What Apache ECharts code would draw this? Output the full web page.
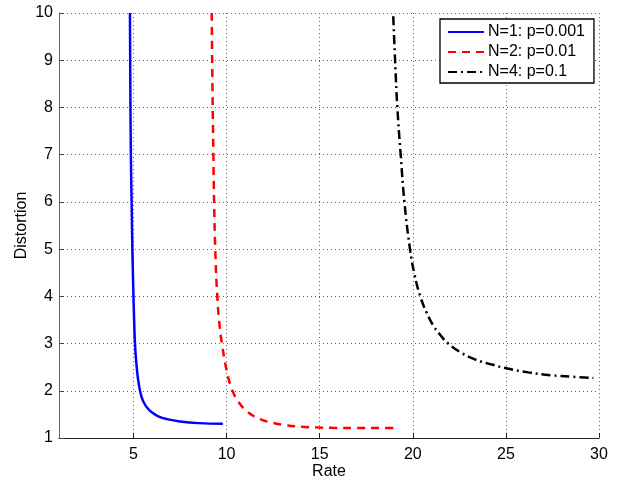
<!DOCTYPE html>
<html>
<head>
<meta charset="utf-8">
<script src="https://cdn.jsdelivr.net/npm/echarts@6/dist/echarts.min.js"></script>
<style>html,body{margin:0;padding:0;background:#fff}#c{width:624px;height:481px}</style>
</head>
<body>
<div id="c"></div>
<script>
const xTicks = [5, 10, 15, 20, 25, 30];
const yTicks = [1, 2, 3, 4, 5, 6, 7, 8, 9, 10];
const seriesNames = ['N=1: p=0.001', 'N=2: p=0.01', 'N=4: p=0.1'];

const blueRate = [4.81, 4.83, 4.86, 4.90, 4.94, 5.00, 5.035, 5.08, 5.15, 5.24, 5.35, 5.46, 5.60, 5.78, 6.00, 6.33, 6.80, 7.50, 8.50, 9.80];
const blueDist = [10, 8.5, 7, 6, 5, 4, 3.5, 3, 2.6, 2.26, 2.0, 1.84, 1.72, 1.62, 1.54, 1.46, 1.40, 1.35, 1.315, 1.30];

const redRate = [9.20, 9.24, 9.29, 9.33, 9.39, 9.50, 9.62, 9.75, 10.00, 10.27, 10.58, 11.08, 11.80, 12.50, 13.20, 14.00, 14.80, 15.70, 17.00, 18.20, 19.20];
const redDist = [10, 8.5, 7, 6, 5, 4, 3.4, 3.0, 2.44, 2.05, 1.80, 1.57, 1.40, 1.32, 1.27, 1.24, 1.225, 1.215, 1.21, 1.21, 1.21];

const blackRate = [18.95, 19.05, 19.17, 19.35, 19.55, 19.85, 20.10, 20.40, 20.75, 21.10, 21.50, 21.90, 22.50, 23.30, 24.30, 25.10, 26.20, 27.40, 28.50, 29.70];
const blackDist = [9.93, 9.0, 8.0, 7.0, 6.0, 5.0, 4.45, 4.0, 3.65, 3.38, 3.17, 3.0, 2.83, 2.67, 2.55, 2.47, 2.39, 2.33, 2.30, 2.27];

function pairs(xs, ys) { return xs.map((x, i) => [x, ys[i]]); }

const font = 'Liberation Sans, Arial, Helvetica, sans-serif';
const chart = echarts.init(document.getElementById('c'), null, {renderer: 'canvas'});
const lineBase = {type: 'line', showSymbol: false, symbol: 'none', smooth: 0.45, z: 3};
chart.setOption({
  animation: false,
  backgroundColor: '#fff',
  grid: {left: 59, right: 25, top: 13, bottom: 43, containLabel: false, outerBoundsMode: 'none'},
  legend: {
    orient: 'vertical',
    left: 440, top: 19,
    backgroundColor: '#fff',
    borderColor: '#000', borderWidth: 1.3,
    padding: [5, 9, 3, 7],
    itemWidth: 36, itemHeight: 14, itemGap: 4,
    itemStyle: {opacity: 0},
    textStyle: {fontFamily: font, fontSize: 16, color: '#000', padding: [0, 0, 0, -1]},
    data: seriesNames
  },
  xAxis: {
    type: 'value', min: 1, max: 30,
    name: 'Rate', nameLocation: 'middle', nameGap: 26, nameMoveOverlap: false,
    nameTextStyle: {fontFamily: font, fontSize: 16, color: '#000'},
    axisLine: {show: true, onZero: false, lineStyle: {color: '#222', width: 1}},
    axisTick: {show: true, inside: true, length: 5, customValues: xTicks, lineStyle: {color: '#222'}},
    axisLabel: {customValues: xTicks, fontFamily: font, fontSize: 16, color: '#000', margin: 9},
    splitLine: {show: true, lineStyle: {color: '#666', width: 1, type: [1, 3]}}
  },
  yAxis: {
    type: 'value', min: 1, max: 10, interval: 1,
    name: 'Distortion', nameLocation: 'middle', nameGap: 29, nameRotate: 90, nameMoveOverlap: false,
    nameTextStyle: {fontFamily: font, fontSize: 16, color: '#000'},
    axisLine: {show: true, onZero: false, lineStyle: {color: '#666', width: 1}},
    axisTick: {show: true, inside: true, length: 5, lineStyle: {color: '#444'}},
    axisLabel: {fontFamily: font, fontSize: 16, color: '#000', margin: 6},
    splitLine: {show: true, lineStyle: {color: '#666', width: 1, type: [1, 3]}}
  },
  series: [
    Object.assign({}, lineBase, {name: seriesNames[0], data: pairs(blueRate, blueDist),
     lineStyle: {color: '#0000ff', width: 2.5}, itemStyle: {color: '#0000ff'}}),
    Object.assign({}, lineBase, {name: seriesNames[1], data: pairs(redRate, redDist),
     lineStyle: {color: '#ff0000', width: 2.5, type: [8, 6]}, itemStyle: {color: '#ff0000'}}),
    Object.assign({}, lineBase, {name: seriesNames[2], data: pairs(blackRate, blackDist),
     lineStyle: {color: '#000', width: 2.5, type: [9, 4, 2, 4]}, itemStyle: {color: '#000'}})
  ]
});
</script>
</body>
</html>
